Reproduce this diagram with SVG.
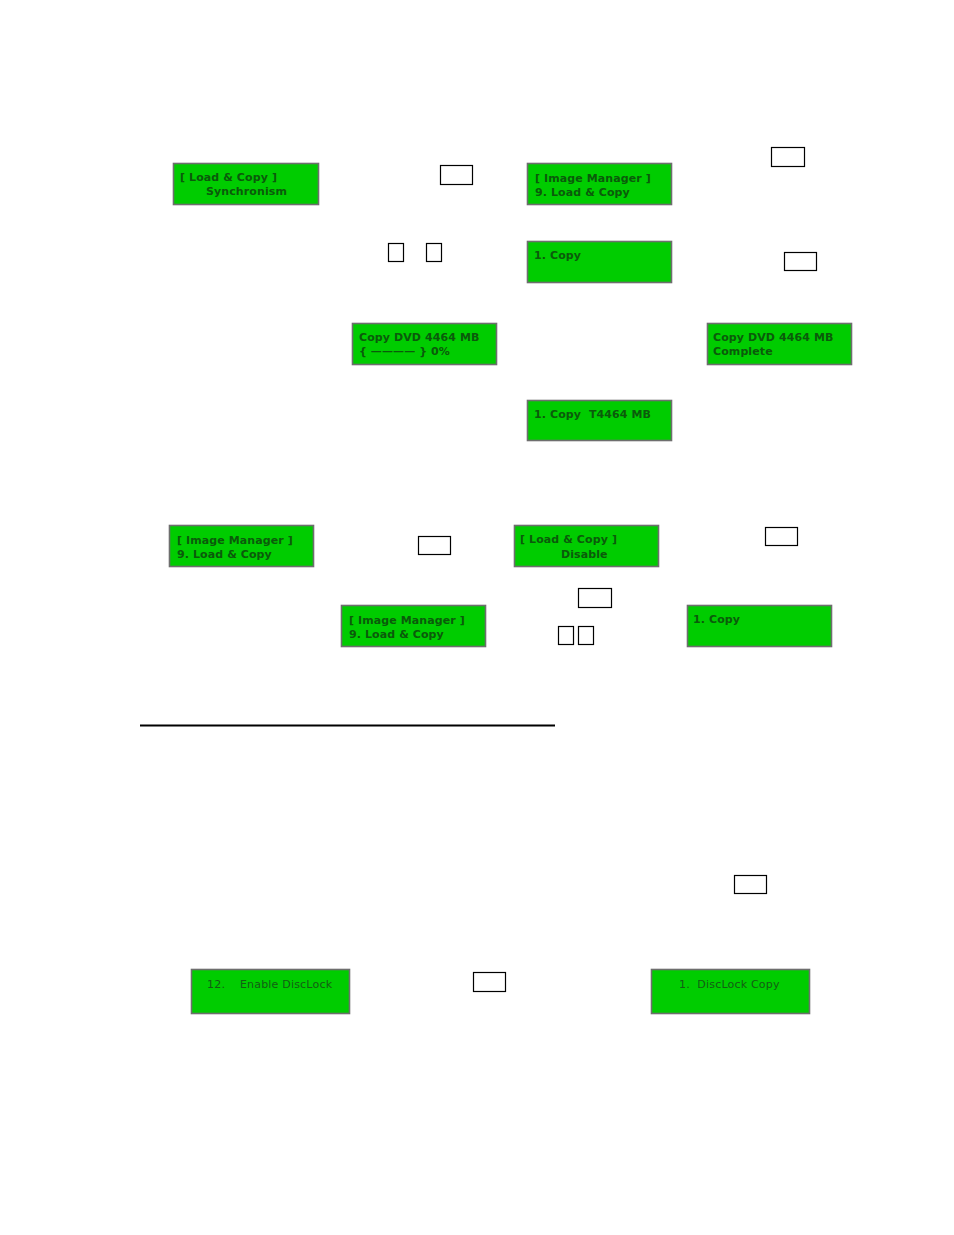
<svg xmlns="http://www.w3.org/2000/svg" width="954" height="1235" viewBox="0 0 954 1235">
<style>
.lcd rect{fill:#00cc00;stroke:#6e6e6e;stroke-width:1.6}
.lcd text{font-family:"DejaVu Sans",Verdana,sans-serif;font-size:11px;font-weight:bold;fill:#0b5a0b;letter-spacing:0.1px;white-space:pre}
.lcd text.lt{font-weight:normal;fill:#145c14;letter-spacing:0.2px}
.key{fill:#fff;stroke:#000;stroke-width:1.2}
</style>
<rect width="954" height="1235" fill="#fff"/>
<g id="lcd1" class="lcd"><rect x="173.5" y="163.5" width="145" height="41"/><text x="180" y="181">[ Load &amp; Copy ]</text><text x="206" y="195">Synchronism</text></g>
<g id="lcd2" class="lcd"><rect x="527.5" y="163.5" width="144" height="41"/><text x="535" y="182">[ Image Manager ]</text><text x="535" y="196">9. Load &amp; Copy</text></g>
<g id="lcd3" class="lcd"><rect x="527.5" y="241.5" width="144" height="41"/><text x="534" y="259">1. Copy</text></g>
<g id="lcd4" class="lcd"><rect x="352.5" y="323.5" width="144" height="41"/><text x="359" y="341">Copy DVD 4464 MB</text><text x="359" y="355">{ ———— } 0%</text></g>
<g id="lcd5" class="lcd"><rect x="707.5" y="323.5" width="144" height="41"/><text x="713" y="341">Copy DVD 4464 MB</text><text x="713" y="355">Complete</text></g>
<g id="lcd6" class="lcd"><rect x="527.5" y="400.5" width="144" height="40"/><text x="534" y="418" xml:space="preserve">1. Copy  T4464 MB</text></g>
<g id="lcd7" class="lcd"><rect x="169.5" y="525.5" width="144" height="41"/><text x="177" y="544">[ Image Manager ]</text><text x="177" y="558">9. Load &amp; Copy</text></g>
<g id="lcd8" class="lcd"><rect x="514.5" y="525.5" width="144" height="41"/><text x="520" y="543">[ Load &amp; Copy ]</text><text x="561" y="558">Disable</text></g>
<g id="lcd9" class="lcd"><rect x="341.5" y="605.5" width="144" height="41"/><text x="349" y="624">[ Image Manager ]</text><text x="349" y="638">9. Load &amp; Copy</text></g>
<g id="lcd10" class="lcd"><rect x="687.5" y="605.5" width="144" height="41"/><text x="693" y="623">1. Copy</text></g>
<g id="lcd11" class="lcd"><rect x="191.5" y="969.5" width="158" height="44"/><text class="lt" x="207" y="988" xml:space="preserve">12.    Enable DiscLock</text></g>
<g id="lcd12" class="lcd"><rect x="651.5" y="969.5" width="158" height="44"/><text class="lt" x="679" y="988" xml:space="preserve">1.  DiscLock Copy</text></g>
<g id="keys">
<rect class="key" x="440.5" y="165.5" width="32" height="19"/>
<rect class="key" x="771.5" y="147.5" width="33" height="19"/>
<rect class="key" x="388.5" y="243.5" width="15" height="18"/>
<rect class="key" x="426.5" y="243.5" width="15" height="18"/>
<rect class="key" x="784.5" y="252.5" width="32" height="18"/>
<rect class="key" x="418.5" y="536.5" width="32" height="18"/>
<rect class="key" x="765.5" y="527.5" width="32" height="18"/>
<rect class="key" x="578.5" y="588.5" width="33" height="19"/>
<rect class="key" x="558.5" y="626.5" width="15" height="18"/>
<rect class="key" x="578.5" y="626.5" width="15" height="18"/>
<rect class="key" x="734.5" y="875.5" width="32" height="18"/>
<rect class="key" x="473.5" y="972.5" width="32" height="19"/>
</g>
<g id="connectors"><line x1="140" y1="725.5" x2="555" y2="725.5" stroke="#000" stroke-width="2"/></g>
</svg>
